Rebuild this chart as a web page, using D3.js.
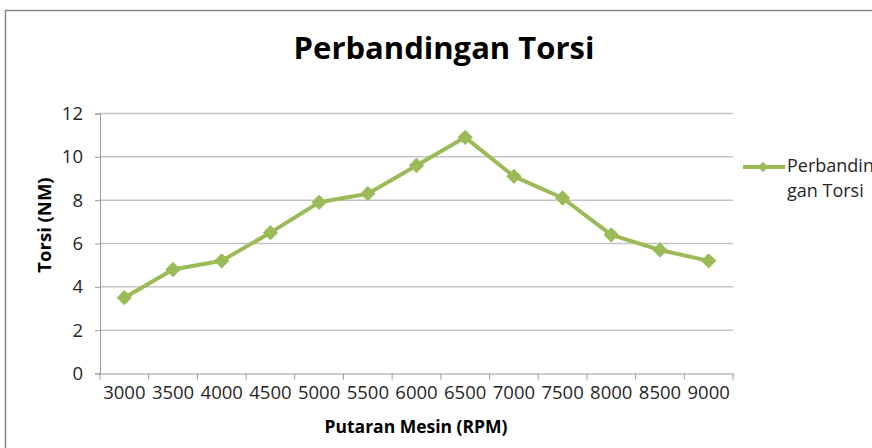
<!DOCTYPE html>
<html>
<head>
<meta charset="utf-8">
<script src="https://cdn.jsdelivr.net/npm/d3@7"></script>
<style>
  body { margin: 0; background: #fff; }
  svg { display: block; font-family: "Open Sans", sans-serif; }
</style>
</head>
<body>
<div id="chart"></div>
<script>
// chart data
const rpm = ["3000", "3500", "4000", "4500", "5000", "5500", "6000", "6500", "7000", "7500", "8000", "8500", "9000"];
const torsi = [3.5, 4.8, 5.2, 6.5, 7.9, 8.3, 9.6, 10.9, 9.1, 8.1, 6.4, 5.7, 5.2];
const yTicks = [0, 2, 4, 6, 8, 10, 12];
const seriesName = ["Perbandin", "gan Torsi"];

const width = 872;
const height = 448;
const plot = { left: 100, right: 733, top: 113.5, bottom: 373.5 };
const green = "#9bbb59";

const svg = d3.select("#chart")
    .append("svg")
    .attr("width", width)
    .attr("height", height);

// outer frame (runs off the right and bottom edges)
svg.append("rect")
    .attr("x", 5.5)
    .attr("y", 10.5)
    .attr("width", 900)
    .attr("height", 460)
    .attr("fill", "#fff")
    .attr("stroke", "#868686")
    .attr("stroke-width", 1.5);

const x = d3.scaleBand()
    .domain(rpm)
    .range([plot.left, plot.right])
    .paddingInner(0)
    .paddingOuter(0);

const y = d3.scaleLinear()
    .domain([0, 12])
    .range([plot.bottom, plot.top]);

// gridlines
svg.append("g")
    .selectAll("line")
    .data(yTicks.filter(d => d > 0))
    .join("line")
    .attr("x1", plot.left)
    .attr("x2", plot.right)
    .attr("y1", d => y(d))
    .attr("y2", d => y(d))
    .attr("stroke", "#c3c3c3")
    .attr("stroke-width", 1.5);

// y axis
const yAxis = svg.append("g")
    .attr("transform", `translate(${plot.left},0)`)
    .call(d3.axisLeft(y).tickValues(yTicks).tickSize(5).tickPadding(12));
yAxis.select(".domain").attr("stroke", "#9a9a9a");
yAxis.selectAll(".tick line").attr("stroke", "#9a9a9a");
yAxis.selectAll(".tick text")
    .attr("fill", "#262626")
    .style("font-family", "'Open Sans', sans-serif")
    .style("font-size", "18.5px");

// x axis: tick marks sit on the category boundaries
const xAxis = svg.append("g")
    .attr("transform", `translate(0,${plot.bottom})`)
    .call(d3.axisBottom(x).tickSize(0).tickPadding(12));
xAxis.select(".domain").attr("stroke", "#9a9a9a");
xAxis.selectAll(".tick text")
    .attr("fill", "#262626")
    .style("font-family", "'Open Sans', sans-serif")
    .style("font-size", "18.5px");

const edges = rpm.map(d => x(d)).concat([x.range()[1]]);
xAxis.selectAll(".edge")
    .data(edges)
    .join("line")
    .attr("class", "edge")
    .attr("x1", d => d)
    .attr("x2", d => d)
    .attr("y1", 0)
    .attr("y2", 6)
    .attr("stroke", "#9a9a9a");

// series line
const line = d3.line()
    .x((d, i) => x(rpm[i]) + x.bandwidth() / 2)
    .y(d => y(d));

svg.append("path")
    .datum(torsi)
    .attr("d", line)
    .attr("fill", "none")
    .attr("stroke", green)
    .attr("stroke-width", 4)
    .attr("stroke-linejoin", "round");

const diamond = d3.symbol().type(d3.symbolDiamond2).size(150);
svg.append("g")
    .selectAll("path")
    .data(torsi)
    .join("path")
    .attr("d", diamond)
    .attr("transform", (d, i) => `translate(${x(rpm[i]) + x.bandwidth() / 2},${y(d)})`)
    .attr("fill", green);

// title
svg.append("text")
    .attr("x", 444)
    .attr("y", 59)
    .attr("text-anchor", "middle")
    .style("font-size", "31px")
    .style("font-weight", "bold")
    .attr("fill", "#000")
    .text("Perbandingan Torsi");

// axis titles
svg.append("text")
    .attr("x", 416)
    .attr("y", 433)
    .attr("text-anchor", "middle")
    .style("font-size", "17.5px")
    .style("font-weight", "bold")
    .attr("fill", "#000")
    .text("Putaran Mesin (RPM)");

svg.append("text")
    .attr("transform", "translate(51,225) rotate(-90)")
    .attr("text-anchor", "middle")
    .style("font-size", "18.5px")
    .style("font-weight", "bold")
    .attr("fill", "#000")
    .text("Torsi (NM)");

// legend (the first line runs off the right edge, as in the original)
const legend = svg.append("g").attr("transform", "translate(743,167)");
legend.append("line")
    .attr("x1", 0)
    .attr("x2", 42)
    .attr("stroke", green)
    .attr("stroke-width", 4);
legend.append("path")
    .attr("d", d3.symbol().type(d3.symbolDiamond2).size(70))
    .attr("transform", "translate(20,0)")
    .attr("fill", green);
legend.selectAll("text")
    .data(seriesName)
    .join("text")
    .attr("x", 44)
    .attr("y", (d, i) => 5 + i * 25)
    .style("font-size", "18px")
    .attr("fill", "#262626")
    .text(d => d);
</script>
</body>
</html>
